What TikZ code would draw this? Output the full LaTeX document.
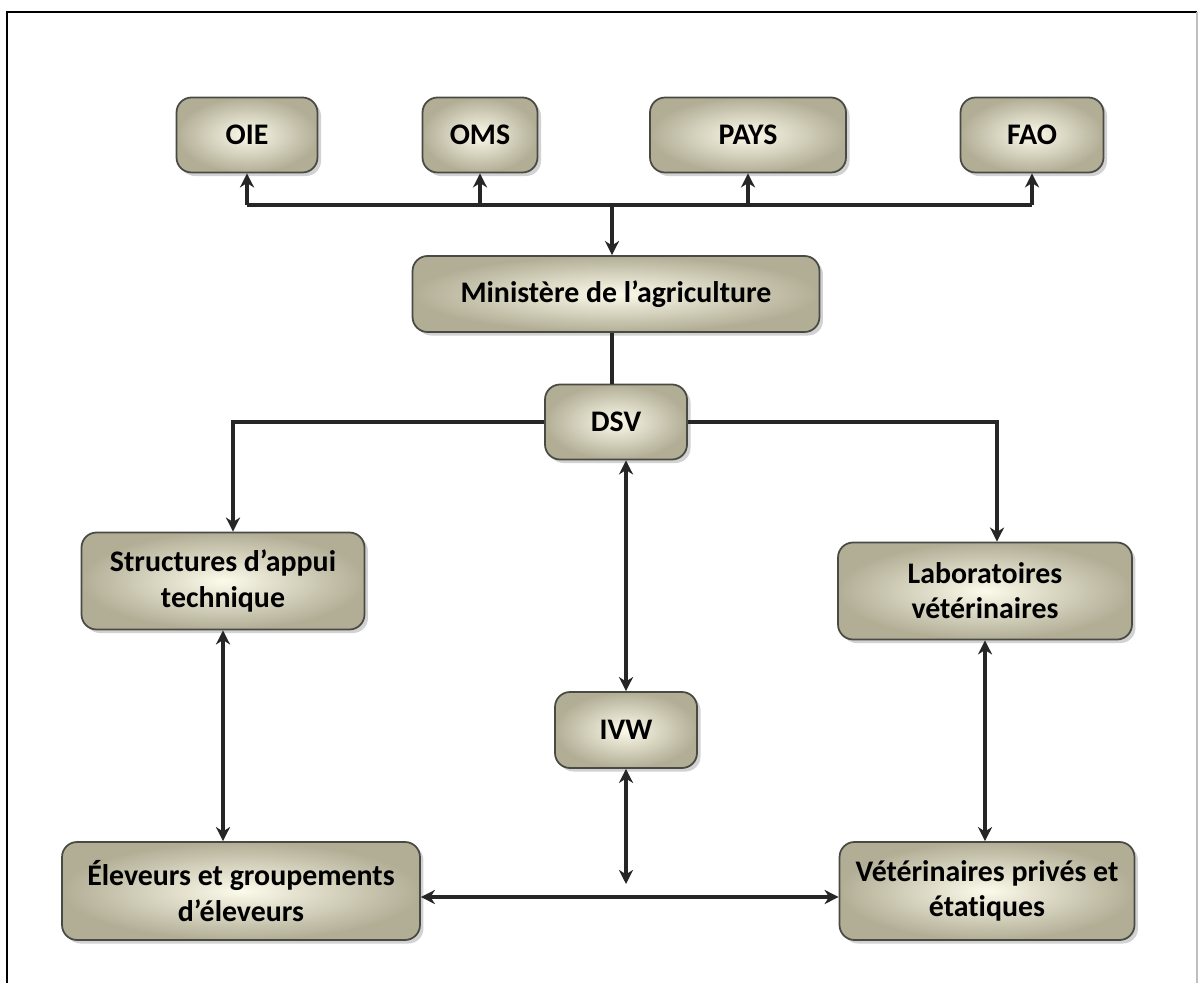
\documentclass[tikz,border=0pt]{standalone}
\usepackage{fontspec}
\setmainfont{Carlito}[Ligatures=NoCommon]
\usetikzlibrary{arrows.meta,shadows}
\definecolor{boxin}{HTML}{FCFAEA}
\definecolor{boxout}{HTML}{B2AE96}
\definecolor{boxline}{HTML}{4A4A44}

\tikzset{
  box/.style={rectangle, rounded corners=0.3cm, draw=boxline, line width=1pt,
    inner color=boxin, outer color=boxout, align=center,
    font=\bfseries\fontsize{17}{20}\selectfont,
    drop shadow={shadow xshift=2pt, shadow yshift=-2pt, opacity=0.35}},
  link/.style={line width=1.8pt, black!85},
  >={Stealth[length=8pt,width=8pt,inset=2.5pt]}
}

\begin{document}
\begin{tikzpicture}[x=0.02cm,y=-0.02cm]
  \useasboundingbox (0,0) rectangle (1200,983);
  \fill[white] (0,0) rectangle (1200,983);
  % frame
  \draw[line width=1.2pt] (7,983) -- (7,12) -- (1197,12);
  \draw[line width=0.6pt, black!25] (1197,12) -- (1197,983);

  % organisations
  \node (oie) at (247,135) [box, minimum width=2.82cm, minimum height=1.5cm] {OIE};
  \node (oms) at (480,135) [box, minimum width=2.3cm, minimum height=1.5cm] {OMS};
  \node (pays) at (748,135) [box, minimum width=3.92cm, minimum height=1.5cm] {PAYS};
  \node (fao) at (1032,135) [box, minimum width=2.86cm, minimum height=1.5cm] {FAO};

  \node (min) at (616,294) [box, minimum width=8.14cm, minimum height=1.52cm] {Ministère de l’agriculture};
  \node (dsv) at (616,422) [box, minimum width=2.84cm, minimum height=1.5cm] {DSV};

  \node (appui) at (223,581) [box, minimum width=5.66cm, minimum height=1.94cm] {Structures d’appui\\technique};
  \node (labo) at (985,591) [box, minimum width=5.88cm, minimum height=1.94cm] {Laboratoires\\vétérinaires};
  \node (ivw) at (626,730) [box, minimum width=2.84cm, minimum height=1.52cm] {IVW};

  \node (elev) at (241,891) [box, minimum width=7.16cm, minimum height=1.96cm] {Éleveurs et groupements\\d’éleveurs};
  \node (vet) at (987,891) [box, minimum width=5.9cm, minimum height=1.96cm] {Vétérinaires privés et\\étatiques};

  % liaisons
  \coordinate (bus) at (612,205);
  \draw[link] (oie.south |- bus) -- (fao.south |- bus);
  \foreach \org in {oie,oms,pays,fao}
    \draw[link,->] (\org.south |- bus) -- (\org.south);
  \draw[link,->] (bus) -- (min.north -| bus);
  \draw[link] (min.south -| bus) -- (dsv.north -| bus);
  \draw[link,->] (dsv.west) -| ([xshift=0.2cm]appui.north);
  \draw[link,->] (dsv.east) -| ([xshift=0.24cm]labo.north);
  \draw[link,<->] (dsv.south -| ivw.north) -- (ivw.north);
  \coordinate (ivwbas) at (626,884);
  \draw[link,<->] (ivw.south) -- (ivwbas);
  \draw[link,<->] (elev.east |- 0,897) -- (vet.west |- 0,897);
  \draw[link,<->] (appui.south) -- (elev.north -| appui.south);
  \draw[link,<->] (labo.south) -- (vet.north -| labo.south);
\end{tikzpicture}
\end{document}
